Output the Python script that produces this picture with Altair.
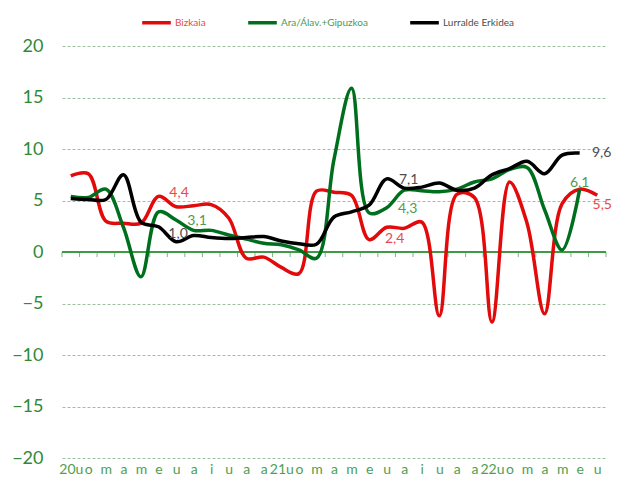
import json
import altair as alt
import pandas as pd

# ---- data ----
month_labels = ["20u", "o", "m", "a", "m", "e", "u", "a", "i", "u", "a", "a",
                "21u", "o", "m", "a", "m", "e", "u", "a", "i", "u", "a", "a",
                "22u", "o", "m", "a", "m", "e", "u"]

bizkaia = [7.4, 7.6, 3.0, 2.8, 2.8, 5.4, 4.4, 4.5, 4.6, 3.3, -0.6, -0.5, -1.5, -2.1,
           5.9, 5.8, 5.5, 1.2, 2.4, 2.3, 2.9, -6.2, 5.6, 5.3, -6.8, 6.8, 2.8, -6.0,
           4.7, 6.1, 5.5]
araba_gipuzkoa = [5.4, 5.3, 6.1, 2.4, -2.4, 3.9, 3.1, 2.1, 2.1, 1.65, 1.25, 0.85, 0.7,
                  0.2, -0.6, 9.0, 15.9, 3.8, 4.3, 6.0, 5.95, 5.85, 6.1, 6.8, 7.1, 8.0,
                  8.2, 4.1, 0.2, 6.1]
lurralde = [5.2, 5.1, 5.1, 7.5, 2.9, 2.45, 1.0, 1.6, 1.4, 1.3, 1.4, 1.5, 1.07, 0.8,
            0.75, 3.4, 3.9, 4.55, 7.1, 6.2, 6.3, 6.7, 6.0, 6.2, 7.5, 8.1, 8.8, 7.6,
            9.4, 9.6]

series_names = ["Bizkaia", "Ara/Álav.+Gipuzkoa", "Lurralde Erkidea"]
series_values = [bizkaia, araba_gipuzkoa, lurralde]
line_colors = ["#e20a0a", "#006f1d", "#000000"]
label_colors = ["#e84a4a", "#4e9a52", "#4d4d4d"]

# data labels: (series index, month index, text)
label_series = [0, 1, 2, 2, 1, 0, 2, 1, 0]
label_month = [6, 6, 6, 18, 18, 18, 29, 29, 30]
label_text = ["4,4", "3,1", "1,0", "7,1", "4,3", "2,4", "9,6", "6,1", "5,5"]
label_dx = [3, 21, 2, 22, 21, 8, 22, 0, 5]
label_dy = [-14, 1, -8, 1, 1, 12, 0, -6, 10]

rows = []
for name, vals in zip(series_names, series_values):
    for i, v in enumerate(vals):
        rows.append({"idx": i, "value": v, "series": name})
df = pd.DataFrame(rows)

ticks_df = pd.DataFrame({"idx": [i - 0.5 for i in range(len(month_labels) + 1)]})

FONT = "Lato"
GREEN_AX = "#3f9a45"

x_scale = alt.Scale(domain=[-0.5, len(month_labels) - 0.5], nice=False, zero=False)
y_scale = alt.Scale(domain=[-20, 20], nice=False)

x_axis = alt.Axis(values=list(range(len(month_labels))),
                  labelExpr=json.dumps(month_labels) + "[datum.value]",
                  title=None, ticks=False, domain=False, grid=False,
                  labelFontSize=14, labelColor="#4f9e50", labelFont=FONT,
                  labelPadding=4, labelAngle=0, labelOverlap=False,
                  labelFlush=False, labelBound=False)
y_axis = alt.Axis(values=list(range(-20, 21, 5)), title=None, ticks=False,
                  domain=False, grid=True, gridColor="#9fc09f", gridDash=[3, 2],
                  gridWidth=1, labelFontSize=18, labelColor="#2f8a38",
                  labelFont=FONT, labelPadding=19)

color_enc = alt.Color(
    "series:N",
    scale=alt.Scale(domain=series_names, range=line_colors),
    legend=alt.Legend(
        title=None, orient="none", direction="horizontal",
        legendX=78, legendY=-40, symbolType="stroke", symbolSize=820,
        symbolStrokeWidth=3.5, labelFontSize=10, labelFont=FONT,
        labelColor={"expr": "datum.label == 'Bizkaia' ? '#e84a4a' : (datum.label == 'Lurralde Erkidea' ? '#4d4d4d' : '#4e9a52')"},
        columnPadding=35, labelOffset=2, padding=0),
)

base = alt.Chart(df)

zero_rule = alt.Chart(df).mark_rule(color=GREEN_AX, strokeWidth=1.5).encode(
    y=alt.datum(0, scale=y_scale, axis=y_axis))

tick_marks = alt.Chart(ticks_df).mark_tick(
    orient="vertical", size=5, thickness=1, yOffset=2.5, color=GREEN_AX
).encode(x=alt.X("idx:Q", scale=x_scale, axis=x_axis),
         y=alt.datum(0, scale=y_scale, axis=y_axis))

lines = []
for name in series_names:
    lines.append(
        base.transform_filter(alt.datum.series == name)
        .mark_line(interpolate="catmull-rom", strokeWidth=3.5)
        .encode(x=alt.X("idx:Q", scale=x_scale, axis=x_axis),
                y=alt.Y("value:Q", scale=y_scale, axis=y_axis),
                color=color_enc)
    )

texts = []
for s, m, t, dx, dy in zip(label_series, label_month, label_text, label_dx, label_dy):
    tdf = pd.DataFrame({"idx": [m], "value": [series_values[s][m]], "txt": [t]})
    texts.append(
        alt.Chart(tdf).mark_text(font=FONT, fontSize=14, color=label_colors[s],
                                 dx=dx, dy=dy)
        .encode(x=alt.X("idx:Q", scale=x_scale, axis=x_axis),
                y=alt.Y("value:Q", scale=y_scale, axis=y_axis),
                text="txt:N")
    )

chart = alt.layer(tick_marks, zero_rule, *lines, *texts).properties(
    width=544, height=412, autosize="none", background="white",
    padding={"left": 54, "top": 38, "right": 6, "bottom": 25},
).configure_view(stroke=None).configure_axisX(labelOverlap=False)

chart.save("out.html", embed_options={"renderer": "svg", "actions": False})
